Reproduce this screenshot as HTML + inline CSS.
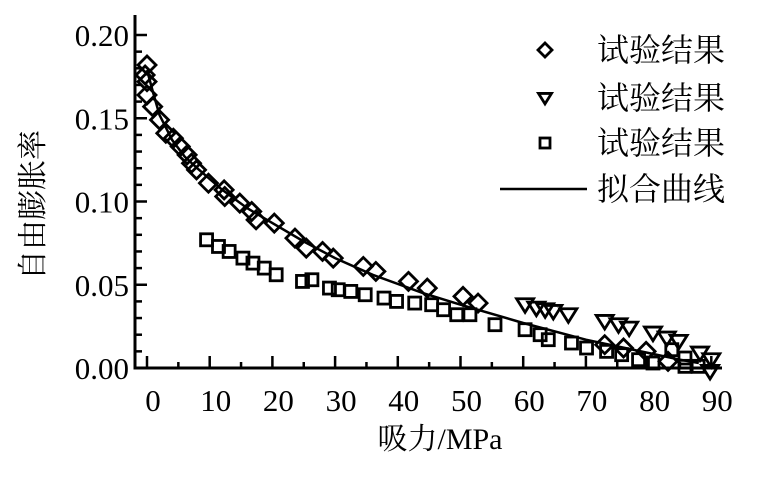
<!DOCTYPE html>
<html><head><meta charset="utf-8"><style>
html,body{margin:0;padding:0;background:#fff;}
svg{display:block;}
text{font-family:"Liberation Serif","Noto Serif CJK SC",serif;fill:#000;}
.cjk{font-family:"Liberation Serif","Noto Serif CJK SC",serif;}
</style></head><body>
<svg id="chart" width="779" height="478" viewBox="0 0 779 478" xmlns="http://www.w3.org/2000/svg"></svg>
<script>
const xTicks=[0,10,20,30,40,50,60,70,80,90];
const yTicks=[0.00,0.05,0.10,0.15,0.20];
const yTickLabels=["0.00","0.05","0.10","0.15","0.20"];
const diamondX=[0,-0.3,0,0,0.9,2.0,3.0,4.2,5.3,6.4,7.1,7.9,9.8,12.3,12.4,14.8,16.7,17.4,20.3,23.6,25.4,28,29.7,34.5,36.5,41.7,44.7,50.4,52.8,73,76,79.6,83.1];
const diamondY=[0.182,0.176,0.172,0.164,0.157,0.149,0.141,0.138,0.133,0.128,0.123,0.119,0.111,0.107,0.103,0.099,0.094,0.089,0.087,0.078,0.072,0.070,0.066,0.061,0.058,0.052,0.048,0.043,0.039,0.014,0.012,0.010,0.004];
const triX=[60.3,62.1,63.5,64.8,67.2,73,75.2,76.9,80.7,82.9,84.8,88.2,90,89.8];
const triY=[0.038,0.036,0.035,0.034,0.032,0.028,0.026,0.024,0.021,0.018,0.016,0.009,0.005,-0.002];
const squareX=[9.5,11.4,13.1,15.3,16.9,18.7,20.6,24.8,26.3,29.1,30.5,32.5,34.8,37.8,39.8,42.7,45.4,47.3,49.4,51.5,55.5,60.3,62.7,64,67.7,70.1,73.3,75.7,78.4,80.7,83.7,85.8,85.8,87.9];
const squareY=[0.077,0.073,0.070,0.066,0.063,0.060,0.056,0.052,0.053,0.048,0.047,0.046,0.044,0.042,0.040,0.039,0.038,0.035,0.032,0.032,0.026,0.023,0.020,0.017,0.015,0.012,0.010,0.008,0.005,0.003,0.011,0.006,0.001,0.001];
const fitX=[0,1,2,4,6,8,12,16,20,25,30,36,44,50,60,70,80,85,88];
const fitY=[0.179,0.165,0.152,0.137,0.127,0.120,0.107,0.096,0.087,0.076,0.066,0.056,0.045,0.038,0.027,0.017,0.009,0.005,0.003];

const NS="http://www.w3.org/2000/svg";
const svg=document.getElementById('chart');
const X0=147,XS=6.27,Y0=368,YS=1665;
function sx(v){return X0+v*XS;}
function sy(v){return Y0-v*YS;}
function mk(tag,attrs,parent){const e=document.createElementNS(NS,tag);for(const k in attrs)e.setAttribute(k,attrs[k]);(parent||svg).appendChild(e);return e;}

const axes=mk('g',{stroke:'#000','stroke-width':3,fill:'none'});


mk('line',{x1:135,y1:15,x2:135,y2:369.5},axes);
mk('line',{x1:133.5,y1:368,x2:722,y2:368},axes);
for(let i=0;i<=20;i++){const y=sy(i*0.01);const t=mk('line',{x1:135,y1:y,x2:i%5===0?147:142,y2:y,'stroke-width':2.5},axes);

}
for(let i=0;i<=18;i++){const x=sx(i*5);const t=mk('line',{x1:x,y1:368,x2:x,y2:i%2===0?356:362,'stroke-width':2.5},axes);

}
xTicks.forEach(v=>{const t=mk('text',{x:sx(v)+6,y:411,'font-size':31,'text-anchor':'middle'});t.textContent=String(v);

});
yTicks.forEach((v,i)=>{const t=mk('text',{x:129,y:sy(v)+11,'font-size':31,'text-anchor':'end'});t.textContent=yTickLabels[i];

});
const xt=mk('text',{x:440,y:449,'font-size':30,'text-anchor':'middle',class:'cjk'});xt.textContent='吸力/MPa';


const yt=mk('text',{x:0,y:0,'font-size':30,'text-anchor':'middle',class:'cjk',transform:'translate(43,205) rotate(-90)'});yt.textContent='自由膨胀率';



let d='';fitX.forEach((v,i)=>{d+=(i?'L':'M')+sx(v).toFixed(1)+','+sy(fitY[i]).toFixed(1);});
const fl=mk('path',{d:d,fill:'none',stroke:'#000','stroke-width':2.5});



function diamond(cx,cy,r){return `M${cx},${cy-r}L${cx+r},${cy}L${cx},${cy+r}L${cx-r},${cy}Z`;}
function tri(cx,cy,r){return `M${cx-r},${cy-r*0.7}L${cx+r},${cy-r*0.7}L${cx},${cy+r*0.9}Z`;}
const mg={fill:'none',stroke:'#000','stroke-width':2.8};
diamondX.forEach((v,i)=>{const p=mk('path',Object.assign({d:diamond(sx(v),sy(diamondY[i]),9)},mg));

});
triX.forEach((v,i)=>{const p=mk('path',Object.assign({d:tri(sx(v),sy(triY[i]),8.5)},mg));

});
squareX.forEach((v,i)=>{const p=mk('rect',Object.assign({x:sx(v)-6,y:sy(squareY[i])-6,width:12,height:12},mg));

});

const lg=mk('g',{});


const rows=[50,98,143,189];
const lab=['试验结果','试验结果','试验结果','拟合曲线'];
mk('path',{d:diamond(545,50,7),fill:'none',stroke:'#000','stroke-width':2.8},lg);
mk('path',{d:tri(545,98,6.5),fill:'none',stroke:'#000','stroke-width':2.8},lg);
mk('rect',{x:540,y:138,width:10,height:10,fill:'none',stroke:'#000','stroke-width':2.8},lg);
mk('line',{x1:500,y1:189,x2:587,y2:189,stroke:'#000','stroke-width':2.5},lg);
rows.forEach((y,i)=>{const t=mk('text',{x:597,y:y+11,'font-size':32,class:'cjk'},lg);t.textContent=lab[i];

});
</script>
</body></html>
